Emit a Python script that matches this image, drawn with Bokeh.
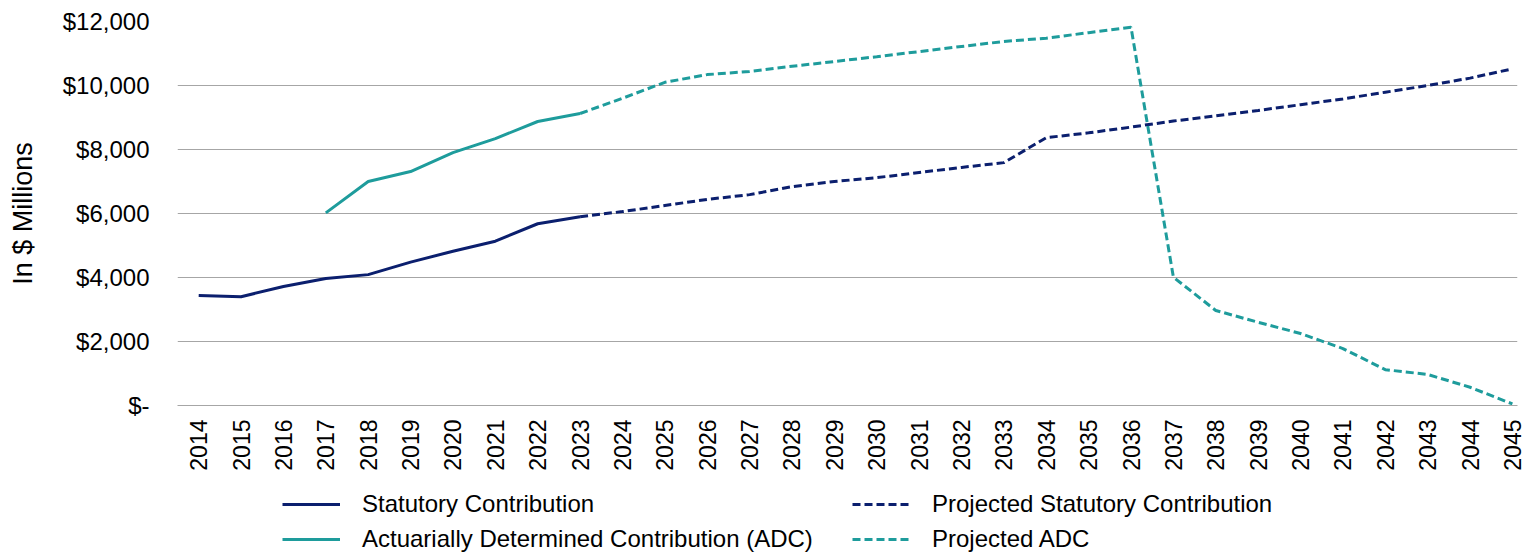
from math import pi
from bokeh.plotting import figure
from bokeh.layouts import column
from bokeh.models import Range1d, Legend, LegendItem, CustomJSTickFormatter, FixedTicker
from bokeh.embed import file_html
from bokeh.resources import INLINE

years_stat = list(range(2014, 2024))
stat = [3440, 3400, 3720, 3970, 4090, 4480, 4820, 5135, 5680, 5900]

years_proj_stat = list(range(2023, 2046))
proj_stat = [5900, 6060, 6250, 6440, 6590, 6840, 7000, 7120, 7280, 7440, 7590,
             8370, 8520, 8700, 8890, 9050, 9220, 9400, 9580, 9790, 10000, 10230, 10520]

years_adc = list(range(2017, 2024))
adc = [6020, 7000, 7310, 7900, 8340, 8875, 9125]

years_proj_adc = list(range(2023, 2046))
proj_adc = [9125, 9600, 10100, 10340, 10440, 10600, 10750, 10900, 11060, 11220, 11375,
            11480, 11650, 11820, 4010, 2970, 2600, 2250, 1780, 1120, 970, 570, 50]

y_ticks = [0, 2000, 4000, 6000, 8000, 10000, 12000]

NAVY = "#0B1F6E"
TEAL = "#1E9C9C"
FONT = "Liberation Sans"

p = figure(width=1522, height=480, output_backend="svg", toolbar_location=None,
           x_range=Range1d(2013.5, 2045.12), y_range=Range1d(0, 12000),
           min_border_left=177, min_border_top=21, min_border_right=5, min_border_bottom=75)
p.outline_line_color = None
p.xgrid.grid_line_color = None
p.ygrid.grid_line_color = "#A6A6A6"
p.ygrid.grid_line_width = 1

p.yaxis.ticker = FixedTicker(ticks=y_ticks)
p.yaxis.formatter = CustomJSTickFormatter(code="""
if (tick == 0) { return '$-'; }
return '$' + tick.toLocaleString('en-US');
""")
p.yaxis.axis_line_color = None
p.yaxis.major_tick_line_color = None
p.yaxis.minor_tick_line_color = None
p.yaxis.major_label_standoff = 22
p.yaxis.major_label_text_font = FONT
p.yaxis.major_label_text_font_size = "24px"
p.yaxis.major_label_text_color = "#000000"
p.yaxis.axis_label = "In $ Millions"
p.yaxis.axis_label_text_font = FONT
p.yaxis.axis_label_text_font_size = "27px"
p.yaxis.axis_label_text_font_style = "normal"
p.yaxis.axis_label_text_color = "#000000"
p.yaxis.axis_label_standoff = 22

p.xaxis.ticker = FixedTicker(ticks=list(range(2014, 2046)))
p.xaxis.axis_line_color = "#A6A6A6"
p.xaxis.major_tick_line_color = None
p.xaxis.minor_tick_line_color = None
p.xaxis.major_label_orientation = pi / 2
p.xaxis.major_label_standoff = 8
p.xaxis.major_label_text_font = FONT
p.xaxis.major_label_text_font_size = "23px"
p.xaxis.major_label_text_color = "#000000"

p.line(years_stat, stat, line_color=NAVY, line_width=3)
p.line(years_proj_stat, proj_stat, line_color=NAVY, line_width=3, line_dash="8 4")
p.line(years_adc, adc, line_color=TEAL, line_width=3)
p.line(years_proj_adc, proj_adc, line_color=TEAL, line_width=3, line_dash="8 4")

# legend strip below the chart (its series lie outside its own ranges, only the keys show)
lg = figure(width=1522, height=73, output_backend="svg", toolbar_location=None,
            x_range=Range1d(0, 1), y_range=Range1d(0, 1),
            x_axis_location=None, y_axis_location=None,
            min_border_left=177, min_border_right=5, min_border_top=0, min_border_bottom=0)
lg.outline_line_color = None
lg.grid.visible = False
k1 = lg.line(years_stat, stat, line_color=NAVY, line_width=3)
k2 = lg.line(years_proj_stat, proj_stat, line_color=NAVY, line_width=3, line_dash="8 4")
k3 = lg.line(years_adc, adc, line_color=TEAL, line_width=3)
k4 = lg.line(years_proj_adc, proj_adc, line_color=TEAL, line_width=3, line_dash="8 4")

def make_legend(items, x):
    return Legend(items=items, location=(x, 0), orientation="vertical",
                  glyph_width=58, glyph_height=24, label_height=24, spacing=7,
                  label_standoff=22, padding=0, margin=0,
                  border_line_color=None, background_fill_alpha=0,
                  label_text_font=FONT, label_text_font_size="24px",
                  label_text_color="#000000")

lg.add_layout(make_legend([LegendItem(label="Statutory Contribution", renderers=[k1]),
                           LegendItem(label="Actuarially Determined Contribution (ADC)", renderers=[k3])], 105), "center")
lg.add_layout(make_legend([LegendItem(label="Projected Statutory Contribution", renderers=[k2]),
                           LegendItem(label="Projected ADC", renderers=[k4])], 675), "center")

open("out.html", "w").write(file_html(column(p, lg, spacing=0), INLINE))
